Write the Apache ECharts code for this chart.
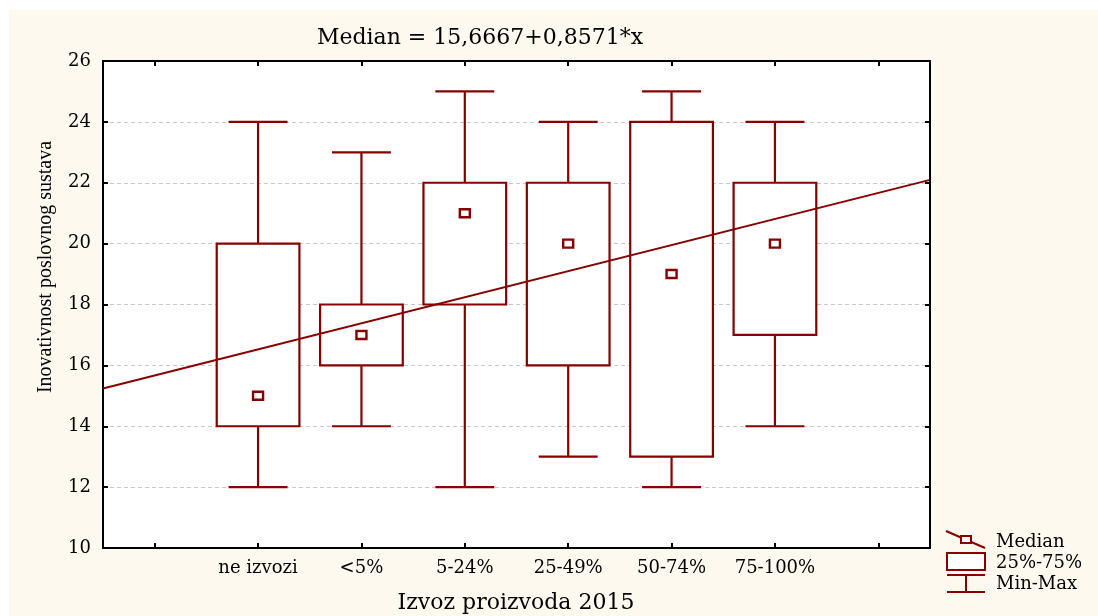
<!DOCTYPE html>
<html>
<head>
<meta charset="utf-8">
<script src="https://cdn.jsdelivr.net/npm/echarts@6/dist/echarts.min.js"></script>
<style>
html,body{margin:0;padding:0;background:#ffffff;}
#chart{width:1098px;height:616px;}
</style>
</head>
<body>
<div id="chart"></div>
<script>
// ---- data ----
var categories = ['ne izvozi', '<5%', '5-24%', '25-49%', '50-74%', '75-100%'];
var minValues    = [12, 14, 12, 13, 12, 14];
var q1Values     = [14, 16, 18, 16, 13, 17];
var medianValues = [15, 17, 21, 20, 19, 20];
var q3Values     = [20, 18, 22, 22, 24, 22];
var maxValues    = [24, 23, 25, 24, 25, 24];
var yTicks = [10, 12, 14, 16, 18, 20, 22, 24, 26];
var fitIntercept = 15.6667;
var fitSlope = 0.8571;
var titleText = 'Median = 15,6667+0,8571*x';
var xTitle = 'Izvoz proizvoda 2015';
var yTitle = 'Inovativnost poslovnog sustava';
var legendLabels = ['Median', '25%-75%', 'Min-Max'];

// ---- build ----
var RED = '#880000';
var SERIF = '"DejaVu Serif", serif';
var axisCats = [''].concat(categories).concat(['']);
var boxData = categories.map(function (c, i) {
  return [i + 1, minValues[i], q1Values[i], medianValues[i], q3Values[i], maxValues[i]];
});
var xLo = -0.5, xHi = 7.5;
var fitData = [[xLo, fitIntercept + fitSlope * xLo], [xHi, fitIntercept + fitSlope * xHi]];

var chart = echarts.init(document.getElementById('chart'), null, {renderer: 'canvas'});

function renderBox(params, api) {
  var x = api.value(0);
  var vmin = api.value(1), q1 = api.value(2), q3 = api.value(4), vmax = api.value(5);
  var pL = api.coord([x - 0.4, q3]);
  var pR = api.coord([x + 0.4, q1]);
  var cL = api.coord([x - 0.285, vmin]);
  var cR = api.coord([x + 0.285, vmax]);
  var pMin = api.coord([x, vmin]);
  var pQ1 = api.coord([x, q1]);
  var pQ3 = api.coord([x, q3]);
  var pMax = api.coord([x, vmax]);
  var st = {stroke: RED, lineWidth: 2.2, fill: null};
  return {
    type: 'group',
    children: [
      {type: 'line', shape: {x1: pMin[0], y1: pMin[1], x2: pQ1[0], y2: pQ1[1]}, style: st},
      {type: 'line', shape: {x1: pQ3[0], y1: pQ3[1], x2: pMax[0], y2: pMax[1]}, style: st},
      {type: 'line', shape: {x1: cL[0], y1: pMin[1], x2: cR[0], y2: pMin[1]}, style: st},
      {type: 'line', shape: {x1: cL[0], y1: pMax[1], x2: cR[0], y2: pMax[1]}, style: st},
      {type: 'rect', shape: {x: pL[0], y: pL[1], width: pR[0] - pL[0], height: pR[1] - pL[1]},
        style: {stroke: RED, lineWidth: 2.2, fill: '#ffffff'}}
    ]
  };
}

function renderMedian(params, api) {
  var p = api.coord([api.value(0), api.value(3)]);
  return {type: 'rect', shape: {x: p[0] - 5, y: p[1] - 4, width: 10, height: 8},
    style: {stroke: RED, lineWidth: 2.4, fill: '#ffffff'}};
}

var legendGraphics = [
  {type: 'line', shape: {x1: 946, y1: 531, x2: 985, y2: 548}, style: {stroke: RED, lineWidth: 2}},
  {type: 'rect', shape: {x: 961, y: 536, width: 10, height: 7}, style: {stroke: RED, lineWidth: 2, fill: '#ffffff'}},
  {type: 'rect', shape: {x: 947, y: 553, width: 38, height: 17}, style: {stroke: RED, lineWidth: 2, fill: '#ffffff'}},
  {type: 'line', shape: {x1: 947, y1: 575, x2: 985, y2: 575}, style: {stroke: RED, lineWidth: 2}},
  {type: 'line', shape: {x1: 966, y1: 575, x2: 966, y2: 592}, style: {stroke: RED, lineWidth: 2}},
  {type: 'line', shape: {x1: 947, y1: 592, x2: 985, y2: 592}, style: {stroke: RED, lineWidth: 2}}
];
var legendYs = [542, 563, 584];
legendLabels.forEach(function (t, i) {
  legendGraphics.push({type: 'text', x: 996, y: legendYs[i],
    style: {text: t, font: '18px ' + SERIF, fill: '#000', textAlign: 'left', textVerticalAlign: 'middle'}});
});

var option = {
  backgroundColor: 'transparent',
  animation: false,
  grid: {left: 103, top: 61, width: 827, height: 487, show: true, backgroundColor: '#ffffff', borderWidth: 0},
  graphic: [
    {type: 'rect', z: -100, silent: true, shape: {x: 9, y: 10, width: 1089, height: 606}, style: {fill: '#fef9ee'}},
    {type: 'text', x: 480, y: 38, style: {text: titleText, font: '22px ' + SERIF, fill: '#000', textAlign: 'center', textVerticalAlign: 'middle'}},
    {type: 'text', x: 516, y: 603, style: {text: xTitle, font: '22px ' + SERIF, fill: '#000', textAlign: 'center', textVerticalAlign: 'middle'}},
    {type: 'text', x: 46, y: 267, rotation: Math.PI / 2, style: {text: yTitle, font: '20px "Liberation Serif", serif', fill: '#000', textAlign: 'center', textVerticalAlign: 'middle'}}
  ].concat(legendGraphics),
  xAxis: [
    {type: 'category', position: 'bottom', data: axisCats, boundaryGap: true,
      axisLine: {show: true, onZero: false, lineStyle: {color: '#000', width: 2}},
      axisTick: {show: true, inside: true, alignWithLabel: true, length: 5, lineStyle: {color: '#000', width: 2}},
      axisLabel: {show: true, interval: 0, margin: 11, color: '#000', fontSize: 18, fontFamily: SERIF},
      splitLine: {show: false}, z: 10},
    {type: 'category', position: 'top', data: axisCats, boundaryGap: true,
      axisLine: {show: true, onZero: false, lineStyle: {color: '#000', width: 2}},
      axisTick: {show: true, inside: true, alignWithLabel: true, length: 5, lineStyle: {color: '#000', width: 2}},
      axisLabel: {show: false}, splitLine: {show: false}, z: 10},
    {type: 'value', min: xLo, max: xHi, show: false}
  ],
  yAxis: [
    {type: 'value', position: 'left', min: 10, max: 26, interval: 2,
      axisLine: {show: true, onZero: false, lineStyle: {color: '#000', width: 2}},
      axisTick: {show: true, inside: true, length: 5, lineStyle: {color: '#000', width: 2}},
      axisLabel: {show: true, margin: 12, color: '#000', fontSize: 18, fontFamily: SERIF,
        formatter: function (v) { return yTicks.indexOf(v) >= 0 ? String(v) : ''; }},
      splitLine: {show: true, lineStyle: {color: '#c8c8c8', type: [4, 3], width: 1}}, z: 1},
    {type: 'value', position: 'right', min: 10, max: 26, interval: 2,
      axisLine: {show: true, onZero: false, lineStyle: {color: '#000', width: 2}},
      axisTick: {show: true, inside: true, length: 5, lineStyle: {color: '#000', width: 2}},
      axisLabel: {show: false}, splitLine: {show: false}, z: 10}
  ],
  series: [
    {type: 'custom', xAxisIndex: 2, yAxisIndex: 0, data: boxData, renderItem: renderBox, z: 3,
      encode: {x: 0, y: [1, 2, 3, 4, 5]}},
    {type: 'line', xAxisIndex: 2, yAxisIndex: 0, data: fitData, showSymbol: false, clip: true,
      lineStyle: {color: RED, width: 2}, z: 4},
    {type: 'custom', xAxisIndex: 2, yAxisIndex: 0, data: boxData, renderItem: renderMedian, z: 5,
      encode: {x: 0, y: 3}}
  ]
};
chart.setOption(option);
</script>
</body>
</html>
